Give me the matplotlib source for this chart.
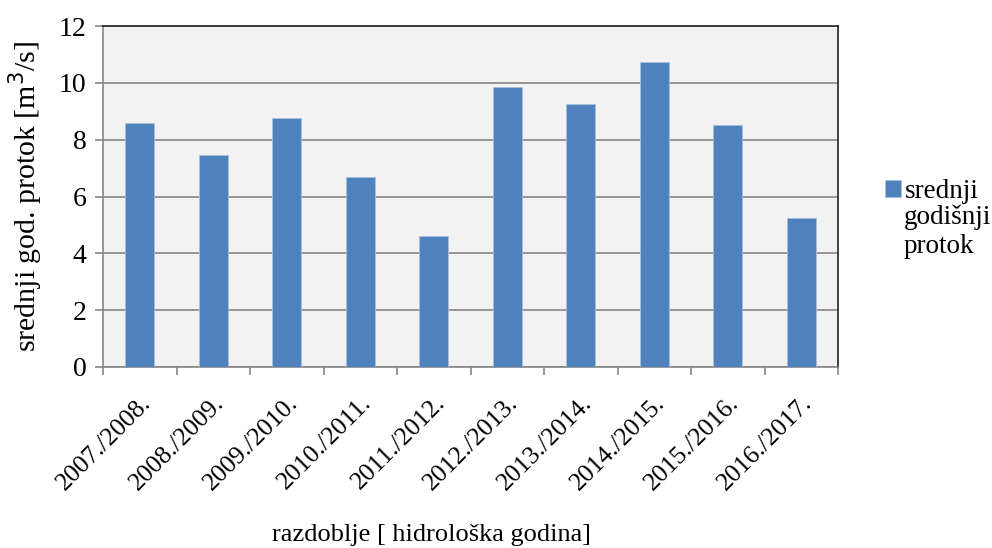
import matplotlib.pyplot as plt
import numpy as np

plt.rcParams['font.family'] = ['Liberation Serif', 'DejaVu Serif']

godine = ['2007./2008.', '2008./2009.', '2009./2010.', '2010./2011.', '2011./2012.',
          '2012./2013.', '2013./2014.', '2014./2015.', '2015./2016.', '2016./2017.']
protok = [8.57, 7.47, 8.78, 6.68, 4.6, 9.87, 9.27, 10.72, 8.52, 5.25]

fig = plt.figure(figsize=(9.92, 5.48), dpi=100)
ax = fig.add_axes([103/992, 1-367/548, (838-103)/992, (367-26)/548])
ax.set_facecolor('#f2f2f2')

x = np.arange(len(godine))
ax.bar(x, protok, width=0.4, color='#4f81bd', edgecolor='#a7c0de', linewidth=0.6,
       label='srednji', zorder=3)

ax.set_xlim(-0.5, len(godine) - 0.5)
ax.set_ylim(0, 12)
ax.set_yticks(range(0, 13, 2))
ax.grid(axis='y', color='#868686', linewidth=1.2, zorder=0)

ax.set_xticks(x)
ax.set_xticklabels(godine, rotation=45, ha='right', rotation_mode='anchor', fontsize=18.5)
ax.tick_params(axis='x', length=0, pad=18)
ax.set_xticks(np.arange(-0.5, len(godine)), minor=True)
ax.tick_params(axis='x', which='minor', length=6, color='#868686', width=1.2)
ax.tick_params(axis='y', labelsize=20, length=6, color='#868686', width=1.2, pad=6)

for s in ['left', 'bottom']:
    ax.spines[s].set_color('#868686')
    ax.spines[s].set_linewidth(1.2)
for s in ['top', 'right']:
    ax.spines[s].set_color('#222222')
    ax.spines[s].set_linewidth(1.2)

ax.set_ylabel('srednji god. protok [m$^3$/s]', fontsize=21.5, labelpad=10)
fig.text(432/992, 1-546/548, 'razdoblje [ hidrološka godina]', fontsize=19,
         ha='center', va='bottom')

ax.legend(loc='upper left', bbox_to_anchor=(885/992, 1-179/548),
          bbox_transform=fig.transFigure, frameon=False, fontsize=19.5,
          handlelength=0.6, handleheight=0.6, handletextpad=0.15,
          borderaxespad=0, borderpad=0)
fig.text(904/992, 1-205/548, 'godišnji\nprotok', fontsize=19.5, va='top',
         linespacing=1.2)

fig.savefig('out.png', dpi=100)
